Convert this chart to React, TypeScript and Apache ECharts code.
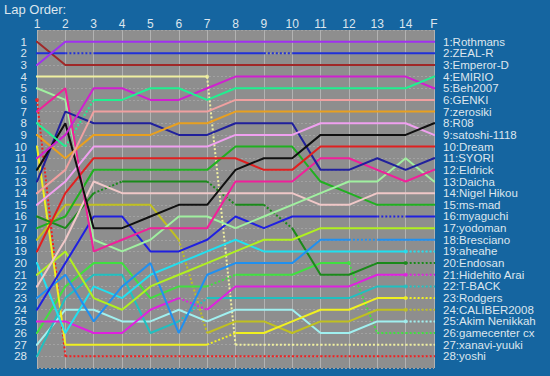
import React, { useEffect, useRef } from "react";
import * as echarts from "echarts";

// ---- data ----
const lapLabels = ["1", "2", "3", "4", "5", "6", "7", "8", "9", "10", "11", "12", "13", "14", "F"];

const carNames = [
  "Rothmans", "ZEAL-R", "Emperor-D", "EMIRIO", "Beh2007", "GENKI", "zerosiki", "R08",
  "satoshi-1118", "Dream", "SYORI", "Eldrick", "Daicha", "Nigel Hikou", "ms-mad", "myaguchi",
  "yodoman", "Bresciano", "aheahe", "Endosan", "Hidehito Arai", "T-BACK", "Rodgers",
  "CALIBER2008", "Akim Nenikkah", "gamecenter cx", "xanavi-yuuki", "yoshi",
];

// position at laps 1..14 and F
const rothmans = [3, 1, 1, 1, 1, 1, 1, 1, 1, 1, 1, 1, 1, 1, 1];
const zealR = [2, 2, 2, 2, 2, 2, 2, 2, 2, 2, 2, 2, 2, 2, 2];
const emperorD = [1, 3, 3, 3, 3, 3, 3, 3, 3, 3, 3, 3, 3, 3, 3];
const emirio = [8, 10, 6, 6, 5, 5, 6, 5, 5, 5, 5, 5, 5, 5, 4];
const beh2007 = [11, 9, 5, 5, 6, 6, 5, 4, 4, 4, 4, 4, 4, 4, 5];
const genki = [14, 12, 7, 7, 7, 7, 7, 6, 6, 6, 6, 6, 6, 6, 6];
const zerosiki = [9, 11, 9, 9, 9, 8, 8, 7, 7, 7, 7, 7, 7, 7, 7];
const r08 = [12, 8, 17, 17, 16, 15, 15, 12, 11, 11, 9, 9, 9, 9, 8];
const satoshi = [15, 13, 10, 10, 10, 10, 10, 9, 9, 9, 8, 8, 8, 8, 9];
const dream = [19, 14, 11, 11, 11, 11, 11, 11, 12, 12, 10, 10, 10, 10, 10];
const syori = [13, 7, 8, 8, 8, 9, 9, 8, 8, 8, 12, 12, 11, 12, 11];
const eldrick = [7, 5, 19, 18, 17, 17, 17, 13, 13, 13, 11, 11, 12, 13, 12];
const daicha = [5, 6, 18, 19, 18, 16, 16, 17, 16, 15, 14, 13, 13, 11, 13];
const nigel = [22, 18, 13, 14, 14, 14, 14, 14, 14, 14, 15, 15, 14, 14, 14];
const msMad = [17, 16, 12, 12, 12, 12, 12, 10, 10, 10, 13, 14, 15, 15, 15];
const myaguchi = [24, 20, 16, 16, 19, 19, 18, 16, 17, 16, 16, 16, 16, 16, 16];
const yodoman = [21, 19, 23, 24, 22, 21, 20, 19, 18, 18, 17, 17, 17, 17, 17];
const bresciano = [23, 21, 25, 22, 20, 26, 21, 20, 20, 20, 18, 18, 18, 18, 18];
const aheahe = [20, 26, 22, 23, 21, 20, 19, 18, 19, 19, 19, 19, 19, 19, 19];
const endosan = [16, 17, 14, 13, 13, 13, 13, 15, 15, 17, 21, 21, 20, 20, 20];
const hidehito = [25, 25, 26, 26, 24, 23, 24, 22, 22, 22, 22, 22, 21, 21, 21];
const tBack = [28, 23, 21, 21, 26, 25, 23, 23, 23, 23, 23, 23, 22, 22, 22];
const rodgers = [10, 27, 27, 27, 27, 27, 27, 26, 26, 25, 24, 24, 23, 23, 23];
const caliber = [18, 15, 15, 15, 15, 18, 26, 25, 25, 26, 25, 25, 24, 24, 24];
const akim = [27, 24, 24, 25, 25, 24, 25, 24, 24, 24, 26, 26, 25, 25, 25];
const gamecenter = [26, 22, 20, 20, 23, 22, 22, 21, 21, 21, 20, 20, 26, 26, 26];
const xanavi = [4, 4, 4, 4, 4, 4, 4, 27, 27, 27, 27, 27, 27, 27, 27];
const yoshi = [6, 28, 28, 28, 28, 28, 28, 28, 28, 28, 28, 28, 28, 28, 28];

const positions = [
  rothmans, zealR, emperorD, emirio, beh2007, genki, zerosiki, r08, satoshi, dream, syori,
  eldrick, daicha, nigel, msMad, myaguchi, yodoman, bresciano, aheahe, endosan, hidehito,
  tBack, rodgers, caliber, akim, gamecenter, xanavi, yoshi,
];

// laps after which the segment to the next lap is drawn dotted (pit stops)
const pitLaps = [
  [], [2, 9], [], [2], [], [], [], [], [], [], [], [], [], [], [], [13], [], [12], [],
  [3, 7, 9], [6], [6], [7], [6], [], [7], [], [],
];
// last lap completed on track (15 = finished on lead lap)
const lastLap = [
  15, 15, 15, 15, 15, 15, 15, 15, 15, 15, 15, 15, 15, 15, 15, 15, 15, 15,
  14, 14, 14, 14, 14, 14, 14, 12, 7, 1,
];

// ---- styles ----
const carColors = [
  "#a030f0", "#2030d8", "#a02828", "#20f090", "#d020d0", "#f0a0a0", "#e8a020", "#101010",
  "#f0a0f0", "#e02020", "#20209c", "#f0209a", "#a0f0a0", "#f0c8c8", "#20b020", "#2020e0",
  "#b0f020", "#2090f0", "#20e0f0", "#1a8a1a", "#e020e0", "#20c0c0", "#f0f020", "#c0c020",
  "#a0f0f0", "#40e040", "#f0f0a0", "#f02020",
];

const BG = "#1565a0";
const PLOT = "#8e8e8e";
const TEXT = "#dde6ee";
const FONT = "Liberation Sans, Arial, sans-serif";
const STUB_L = 0.72;
const STUB_R = 15.28;

function buildSeries() {
  const series: any[] = [];
  const dots: any[] = [];
  for (let k = positions.length - 1; k >= 0; k--) {
    const pos = positions[k];
    const last = lastLap[k];
    const pits = pitLaps[k];
    const isSolid = (i: number) => i < last && pits.indexOf(i) < 0; // segment i -> i+1
    const solid: any[] = [[STUB_L, pos[0]], [1, pos[0]]];
    let lastPushed = 1;
    const dotted: any[] = [];
    for (let i = 1; i <= 14; i++) {
      if (isSolid(i)) {
        if (lastPushed !== i) {
          solid.push([i - 0.5, "-"]);
          solid.push([i, pos[i - 1]]);
        }
        solid.push([i + 1, pos[i]]);
        lastPushed = i + 1;
      } else {
        dotted.push([i, pos[i - 1]]);
        dotted.push([i + 1, pos[i]]);
        dotted.push([i + 1.5, "-"]);
      }
    }
    if (last === 15) {
      if (lastPushed !== 15) {
        solid.push([14.5, "-"]);
        solid.push([15, pos[14]]);
      }
      solid.push([STUB_R, pos[14]]);
    } else {
      dotted.push([15, pos[14]]);
      dotted.push([STUB_R, pos[14]]);
      dots.push({ value: [last, pos[last - 1]], itemStyle: { color: carColors[k] } });
    }
    const base = {
      type: "line",
      showSymbol: false,
      symbol: "none",
      clip: false,
      silent: true,
      connectNulls: false,
    };
    if (dotted.length) {
      series.push({
        ...base,
        name: carNames[k] + " (pit)",
        data: dotted,
        lineStyle: { color: carColors[k], width: 2, type: [2, 2] },
        z: 2,
      });
    }
    series.push({
      ...base,
      name: carNames[k],
      data: solid,
      lineStyle: { color: carColors[k], width: 2 },
      z: 3,
    });
  }
  series.push({
    type: "scatter",
    data: dots,
    symbol: "circle",
    symbolSize: 4,
    silent: true,
    z: 4,
  });
  return series;
}

export default function App() {
  const ref = useRef<HTMLDivElement>(null);
  useEffect(() => {
    if (!ref.current) return;
    const chart = echarts.init(ref.current, undefined, { renderer: "svg" });
    const yLabel = (v: number) => (v >= 1 && v <= 28 ? String(v) : "");
    chart.setOption({
      animation: false,
      backgroundColor: BG,
      title: {
        text: "Lap Order:",
        left: 4,
        top: 2,
        padding: 0,
        textStyle: {
          color: TEXT,
          fontSize: 13,
          lineHeight: 14,
          fontWeight: "normal",
          fontFamily: FONT,
        },
      },
      grid: {
        left: 37,
        top: 30,
        width: 397,
        height: 338,
        show: true,
        backgroundColor: PLOT,
        borderWidth: 0,
      },
      xAxis: {
        type: "value",
        position: "top",
        min: 1,
        max: 15,
        interval: 1,
        axisLine: { show: false },
        axisTick: { show: false },
        axisLabel: {
          color: TEXT,
          fontSize: 12,
          lineHeight: 12,
          fontFamily: FONT,
          margin: 0,
          formatter: (v: number) => lapLabels[v - 1] ?? "",
        },
        splitLine: { show: true, lineStyle: { color: "#b2b2b2", width: 1 } },
      },
      yAxis: [
        {
          type: "value",
          inverse: true,
          min: 0,
          max: 29,
          interval: 1,
          axisLine: { show: false },
          axisTick: { show: false },
          axisLabel: {
            color: TEXT,
            fontSize: 11.5,
            lineHeight: 11,
            fontFamily: FONT,
            margin: 10,
            formatter: yLabel,
          },
          splitLine: {
            show: true,
            lineStyle: { color: "#a2a2a2", width: 1, type: [2, 2] },
          },
        },
        {
          type: "value",
          inverse: true,
          position: "right",
          min: 0,
          max: 29,
          interval: 1,
          axisLine: { show: false },
          axisTick: { show: false },
          splitLine: { show: false },
          axisLabel: {
            color: TEXT,
            fontSize: 11.5,
            lineHeight: 11,
            fontFamily: FONT,
            margin: 9,
            align: "left",
            formatter: (v: number) => (v >= 1 && v <= 28 ? `${v}:${carNames[v - 1]}` : ""),
          },
        },
      ],
      series: buildSeries(),
    });
    return () => chart.dispose();
  }, []);
  return (
    <div
      ref={ref}
      style={{ position: "fixed", left: 0, top: 0, width: 550, height: 376 }}
    />
  );
}
